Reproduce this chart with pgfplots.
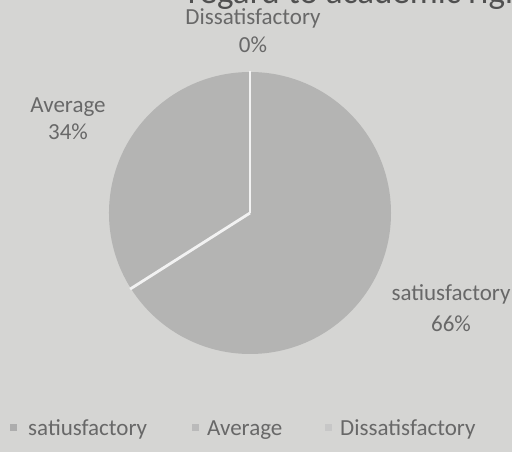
\documentclass[border=0pt]{standalone}
\usepackage{pgfplots}
\usepackage{pgfplotstable}
\pgfplotsset{compat=1.18}
\usepackage{fontspec}
\setmainfont{Carlito}
\definecolor{bg}{HTML}{D5D5D3}
\definecolor{piegray}{HTML}{B4B4B3}
\definecolor{txt}{HTML}{686868}
\definecolor{ttl}{HTML}{505050}
\pgfplotstableread{
label value
satiusfactory 66
Average 34
Dissatisfactory 0
}\piedata
\begin{document}
\begin{tikzpicture}[x=1pt,y=1pt]
\useasboundingbox (0,0) rectangle (512,452);
\clip (0,0) rectangle (512,452);
\fill[bg] (0,0) rectangle (512,452);
\pgfplotstablegetelem{0}{value}\of\piedata \let\vA\pgfplotsretval
\pgfplotstablegetelem{1}{value}\of\piedata \let\vB\pgfplotsretval
\pgfplotstablegetelem{2}{value}\of\piedata \let\vC\pgfplotsretval
\pgfmathsetmacro\aA{90-3.6*\vA}
\pgfmathsetmacro\aB{\aA-3.6*\vB}
\begin{axis}[at={(0,0)},anchor=south west,x=1pt,y=1pt,
  xmin=0,xmax=512,ymin=0,ymax=452,hide axis,clip=false]
  \fill[piegray] (axis cs:250,239) -- ++(90:141pt) arc[start angle=90,end angle=\aA,radius=141pt] -- cycle;
  \fill[piegray] (axis cs:250,239) -- ++(\aA:141pt) arc[start angle=\aA,end angle=\aB,radius=141pt] -- cycle;
  \draw[black!5,line width=2.8pt] (axis cs:250,239) -- ++(90:142pt);
  \draw[black!5,line width=2.8pt] (axis cs:250,239) -- ++(\aA:142pt);
\end{axis}
\begin{scope}[every node/.style={inner sep=0pt,font=\fontsize{23}{27}\selectfont,text=txt}]
\node[anchor=base] at (253,427) {Dissatisfactory};
\node[anchor=base] at (253,399) {\vC\%};
\node[anchor=base] at (68,339) {Average};
\node[anchor=base] at (68,312) {\vB\%};
\node[anchor=base] at (451,151) {satiusfactory};
\node[anchor=base] at (451,120) {\vA\%};
% legend
\fill[black!32] (10,21) rectangle (17,28);
\node[anchor=base west] at (28,16) {satiusfactory};
\fill[black!27] (192,21) rectangle (199,28);
\node[anchor=base west] at (207,16) {Average};
\fill[black!22] (325,21) rectangle (332,28);
\node[anchor=base west] at (340,16) {Dissatisfactory};
% cut-off title at the top edge
\node[anchor=base west,font=\fontsize{35}{40}\selectfont,text=ttl] at (288,448) {to academic rights};
\node[anchor=base east,font=\fontsize{35}{40}\selectfont,text=ttl] at (280,448) {regard};
\end{scope}
\end{tikzpicture}
\end{document}
